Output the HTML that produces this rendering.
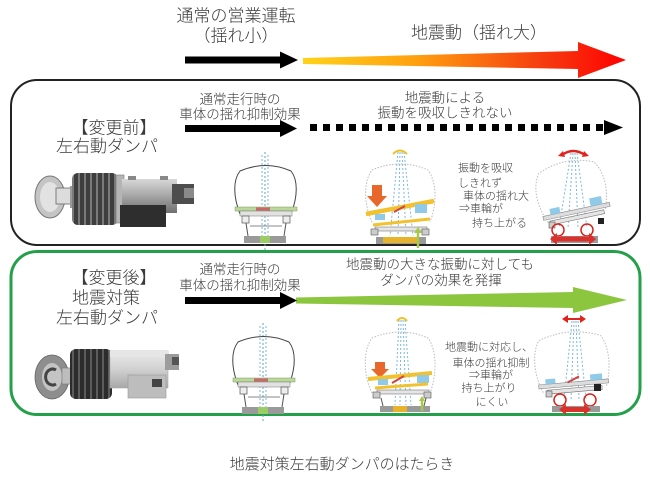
<!DOCTYPE html>
<html><head><meta charset="utf-8">
<style>
html,body{margin:0;padding:0;background:#fff;width:650px;height:478px;overflow:hidden}
svg{display:block}
text{font-family:"Liberation Sans","Noto Sans CJK JP",sans-serif;fill:#3a3a3a;font-weight:300}
</style></head>
<body>
<svg width="650" height="478" viewBox="0 0 650 478" xmlns="http://www.w3.org/2000/svg">
<defs>
<linearGradient id="fire" x1="303" y1="0" x2="626" y2="0" gradientUnits="userSpaceOnUse">
<stop offset="0" stop-color="#ffd21a"/>
<stop offset="0.35" stop-color="#ffa010"/>
<stop offset="0.75" stop-color="#f53a10"/>
<stop offset="1" stop-color="#ff0000"/>
</linearGradient>
<linearGradient id="cyl1" x1="0" y1="0" x2="0" y2="1">
<stop offset="0" stop-color="#d8d8d8"/><stop offset="0.5" stop-color="#a5a5a5"/><stop offset="1" stop-color="#6f6f6f"/>
</linearGradient>
<linearGradient id="cyl2" x1="0" y1="0" x2="0" y2="1">
<stop offset="0" stop-color="#ececec"/><stop offset="0.5" stop-color="#d0d0d0"/><stop offset="1" stop-color="#a8a8a8"/>
</linearGradient>
<pattern id="ribs" width="6" height="10" patternUnits="userSpaceOnUse">
<rect width="6" height="10" fill="#3e3e3e"/><rect x="0" width="2" height="10" fill="#7a7a7a"/>
</pattern>
<pattern id="ribs2" width="6" height="10" patternUnits="userSpaceOnUse">
<rect width="6" height="10" fill="#2c2c2c"/><rect x="0" width="2" height="10" fill="#5c5c5c"/>
</pattern>
</defs>

<!-- top header -->
<text x="236" y="21.5" font-size="17" text-anchor="middle">通常の営業運転</text>
<text x="236" y="41.5" font-size="17" text-anchor="middle">（揺れ小）</text>
<text x="479" y="38.5" font-size="17" text-anchor="middle">地震動（揺れ大）</text>
<polygon points="185,56.5 280,56.5 280,51.5 298,60 280,68.5 280,63.5 185,63.5" fill="#000"/>
<polygon points="303,58 578,51 578,42 626,60 578,78 578,69 303,64" fill="url(#fire)"/>

<!-- box 1 -->
<rect x="11" y="80" width="629" height="165" rx="26" ry="26" fill="none" stroke="#222" stroke-width="2"/>
<text x="114" y="133.5" font-size="17" text-anchor="middle">【変更前】</text>
<text x="107" y="152" font-size="17" text-anchor="middle">左右動ダンパ</text>

<!-- damper 1 -->
<g>
<ellipse cx="50" cy="197" rx="15" ry="21" fill="#c4c4c4" stroke="#777" stroke-width="1"/>
<ellipse cx="50" cy="197" rx="10" ry="15" fill="#e2e2e2"/>
<rect x="56" y="188" width="16" height="16" fill="#dcdcdc" stroke="#666" stroke-width="0.8"/>
<rect x="70" y="186" width="6" height="22" fill="#999"/>
<rect x="72" y="173" width="46" height="52" rx="6" fill="url(#ribs)"/>
<rect x="116" y="175" width="8" height="48" fill="#b5b5b5" stroke="#777" stroke-width="0.6"/>
<rect x="122" y="179" width="55" height="34" fill="url(#cyl1)"/>
<rect x="128" y="176" width="8" height="4" fill="#888"/>
<rect x="160" y="176" width="8" height="4" fill="#888"/>
<rect x="120" y="205" width="46" height="22" fill="#2e2e2e"/>
<rect x="172" y="184" width="22" height="20" fill="#4d4d4d"/>
<rect x="184" y="188" width="10" height="10" fill="#8a8a8a"/>
</g>

<text x="240" y="104" font-size="13.5" text-anchor="middle">通常走行時の</text>
<text x="240" y="119" font-size="13.5" text-anchor="middle">車体の揺れ抑制効果</text>
<polygon points="185,125 280,125 280,120 297,128.5 280,137 280,132 185,132" fill="#000"/>

<text x="445" y="102.5" font-size="13.5" text-anchor="middle">地震動による</text>
<text x="445" y="117.5" font-size="13.5" text-anchor="middle">振動を吸収しきれない</text>
<line x1="310" y1="127.5" x2="604" y2="127.5" stroke="#000" stroke-width="7" stroke-dasharray="7,6"/>
<polygon points="604,120 623,127.5 604,135" fill="#000"/>

<g font-size="11">
<text x="458" y="171.5">振動を吸収</text>
<text x="458" y="186.5">しきれず</text>
<text x="463" y="199.5">車体の揺れ大</text>
<text x="459" y="212">⇒車輪が</text>
<text x="472" y="226.5">持ち上がる</text>
</g>

<!-- Train A normal -->
<g id="trainA">
<line x1="262" y1="155" x2="262" y2="236" stroke="#7ab8dd" stroke-width="1" stroke-dasharray="2,2"/>
<line x1="268" y1="155" x2="268" y2="236" stroke="#7ab8dd" stroke-width="1" stroke-dasharray="2,2"/>
<line x1="265" y1="152" x2="265" y2="250" stroke="#5aa0cc" stroke-width="1" stroke-dasharray="2,2"/>
<path d="M240 214 C233 196 233 180 240 171 Q266 160 291 171 C298 180 298 196 291 214" fill="none" stroke="#444" stroke-width="1"/>
<rect x="235" y="207" width="62" height="4" fill="#bcd79c" stroke="#7a9a5a" stroke-width="0.5"/>
<rect x="240" y="211" width="52" height="5" fill="#e2e2e2" stroke="#777" stroke-width="0.5"/>
<rect x="256" y="207.5" width="14" height="3" fill="#c86a6a"/>
<rect x="242" y="216" width="7" height="7" fill="#eee" stroke="#555" stroke-width="0.7"/>
<rect x="283" y="216" width="7" height="7" fill="#eee" stroke="#555" stroke-width="0.7"/>
<line x1="246" y1="223" x2="248" y2="236" stroke="#555" stroke-width="1"/>
<line x1="286" y1="223" x2="284" y2="236" stroke="#555" stroke-width="1"/>
<line x1="250" y1="226" x2="282" y2="226" stroke="#888" stroke-width="1"/>
<rect x="244" y="236" width="42" height="7" fill="#9a9a9a"/>
<rect x="260" y="236" width="10" height="7" fill="#9ccc66"/>
</g>

<!-- Train B yellow -->
<g>
<g stroke="#7ab8dd" stroke-width="1" stroke-dasharray="2,2">
<line x1="398" y1="152" x2="390" y2="236"/><line x1="400" y1="152" x2="398" y2="236"/>
<line x1="402" y1="152" x2="406" y2="236"/><line x1="404" y1="152" x2="413" y2="236"/>
</g>
<path d="M372 222 C364 205 363 182 372 170 Q400 158 428 170 C437 182 437 205 430 222" fill="none" stroke="#bbb" stroke-width="1" stroke-dasharray="1.5,1.5"/>
<path d="M393 154 Q400 147 407 154" fill="none" stroke="#f0c020" stroke-width="2"/>
<polygon points="372,185 382,185 382,196 387,196 377,207 367,196 372,196" fill="#e8682c"/>
<line x1="366" y1="214" x2="434" y2="201" stroke="#f2c12e" stroke-width="4.5"/>
<rect x="375" y="214" width="10" height="6" fill="#8fcbe9"/>
<rect x="415" y="204" width="12" height="9" fill="#8fcbe9"/>
<line x1="394" y1="212" x2="405" y2="206" stroke="#c44" stroke-width="2"/>
<line x1="373" y1="225" x2="430" y2="219" stroke="#f2c12e" stroke-width="3"/>
<rect x="375" y="227" width="52" height="4" fill="#e5e5e5" stroke="#777" stroke-width="0.6"/>
<rect x="371" y="229" width="7" height="6" fill="#ccc" stroke="#555" stroke-width="0.6"/>
<rect x="422" y="229" width="7" height="6" fill="#ccc" stroke="#555" stroke-width="0.6"/>
<rect x="376" y="237" width="50" height="7" fill="#9a9a9a"/>
<rect x="383" y="237" width="34" height="6" fill="#e7b32d"/>
<line x1="418" y1="248" x2="418" y2="232" stroke="#a6c94a" stroke-width="2.5"/>
<polygon points="414,233 418,227 422,233" fill="#a6c94a"/>
</g>

<!-- Train C red -->
<g>
<g stroke="#7ab8dd" stroke-width="1" stroke-dasharray="2,2">
<line x1="571" y1="153" x2="559" y2="228"/><line x1="573" y1="153" x2="568" y2="228"/>
<line x1="575" y1="153" x2="578" y2="228"/><line x1="577" y1="153" x2="587" y2="228"/>
</g>
<path d="M562 155 Q573 147 585 155" fill="none" stroke="#e0231d" stroke-width="2.5"/>
<polygon points="558,156 563,151 565,157" fill="#e0231d"/>
<polygon points="589,156 584,151 582,157" fill="#e0231d"/>
<g transform="rotate(-12 572 195)">
<path d="M543 217 C535 199 535 179 544 167 Q572 155 600 167 C609 179 609 199 601 217" fill="none" stroke="#bbb" stroke-width="1" stroke-dasharray="1.5,1.5"/>
<rect x="539" y="210" width="68" height="4" fill="#ddd" stroke="#888" stroke-width="0.6"/>
<rect x="547" y="204" width="10" height="6" fill="#8fcbe9"/>
<rect x="588" y="202" width="12" height="8" fill="#8fcbe9"/>
<rect x="545" y="216" width="55" height="4" fill="#e5e5e5" stroke="#777" stroke-width="0.6"/>
</g>
<rect x="598" y="218" width="6" height="6" fill="#222"/>
<rect x="549" y="222" width="6" height="6" fill="#ccc" stroke="#555" stroke-width="0.6"/>
<circle cx="558" cy="230" r="6" fill="none" stroke="#d8231c" stroke-width="1.5"/>
<circle cx="587" cy="230" r="6" fill="none" stroke="#d8231c" stroke-width="1.5"/>
<rect x="551" y="236" width="47" height="7" fill="#9a9a9a"/>
<rect x="556" y="236.5" width="34" height="5" fill="#d9312b"/>
<polygon points="557,233 550,239 557,245" fill="#d9312b"/>
<polygon points="589,233 596,239 589,245" fill="#d9312b"/>
</g>

<!-- box 2 -->
<rect x="11" y="251.5" width="629" height="163" rx="26" ry="26" fill="none" stroke="#23a049" stroke-width="3"/>
<text x="114" y="283.5" font-size="17" text-anchor="middle">【変更後】</text>
<text x="106" y="303.5" font-size="17" text-anchor="middle">地震対策</text>
<text x="107" y="323.5" font-size="17" text-anchor="middle">左右動ダンパ</text>

<!-- damper 2 -->
<g>
<ellipse cx="52" cy="377" rx="17" ry="22" fill="#8e8e8e" stroke="#666" stroke-width="0.8"/>
<ellipse cx="52" cy="377" rx="10" ry="14" fill="#c4c4c4"/>
<path d="M56 370 A7 8 0 1 0 56 384" fill="none" stroke="#444" stroke-width="3"/>
<rect x="62" y="368" width="10" height="16" fill="#bdbdbd" stroke="#777" stroke-width="0.6"/>
<rect x="70" y="349" width="42" height="50" rx="6" fill="url(#ribs2)"/>
<rect x="110" y="351" width="58" height="37" fill="url(#cyl2)" stroke="#aaa" stroke-width="0.6"/>
<rect x="110" y="351" width="58" height="6" fill="#e6e6e6"/>
<rect x="165" y="354" width="14" height="16" fill="#9c9c9c"/>
<rect x="172" y="357" width="7" height="8" fill="#555"/>
<rect x="128" y="375" width="38" height="23" fill="#bdbdbd" stroke="#999" stroke-width="0.6"/>
<rect x="152" y="379" width="10" height="8" fill="#444"/>
</g>

<text x="240" y="274" font-size="13.5" text-anchor="middle">通常走行時の</text>
<text x="240" y="290" font-size="13.5" text-anchor="middle">車体の揺れ抑制効果</text>
<polygon points="296,297.5 573,292 573,287 627,300 573,313 573,308 296,303.5" fill="#8cc63f"/>
<polygon points="185,297 280,297 280,292 297,300.5 280,309 280,304 185,304" fill="#000"/>

<text x="440" y="269" font-size="13.5" text-anchor="middle">地震動の大きな振動に対しても</text>
<text x="441" y="285" font-size="13.5" text-anchor="middle">ダンパの効果を発揮</text>

<g font-size="11" text-anchor="middle">
<text x="489" y="350.5">地震動に対応し、</text>
<text x="491" y="366.5">車体の揺れ抑制</text>
<text x="491" y="378.5">⇒車輪が</text>
<text x="489" y="391.5">持ち上がり</text>
<text x="492" y="405.5">にくい</text>
</g>

<!-- Train D normal -->
<use href="#trainA" transform="translate(-2,171)"/>

<!-- Train E yellow -->
<g>
<g stroke="#7ab8dd" stroke-width="1" stroke-dasharray="2,2">
<line x1="399" y1="320" x2="395" y2="405"/><line x1="401" y1="320" x2="400" y2="405"/>
<line x1="403" y1="320" x2="406" y2="405"/><line x1="405" y1="320" x2="411" y2="405"/>
</g>
<path d="M372 393 C363 375 363 350 372 338 Q400 326 428 338 C437 350 437 375 430 393" fill="none" stroke="#bbb" stroke-width="1" stroke-dasharray="1.5,1.5"/>
<path d="M397 321 Q402 315 407 321" fill="none" stroke="#f0c020" stroke-width="2"/>
<polygon points="375,362 385,362 385,369 389,369 380,378 371,369 375,369" fill="#e8682c"/>
<line x1="368" y1="379" x2="432" y2="373" stroke="#f2c12e" stroke-width="4"/>
<rect x="378" y="379" width="10" height="6" fill="#8fcbe9"/>
<rect x="417" y="375" width="12" height="8" fill="#8fcbe9"/>
<line x1="392" y1="383" x2="404" y2="376" stroke="#c44" stroke-width="2"/>
<line x1="375" y1="388" x2="428" y2="384" stroke="#f2c12e" stroke-width="3"/>
<rect x="377" y="390" width="52" height="4" fill="#e5e5e5" stroke="#777" stroke-width="0.6"/>
<rect x="373" y="392" width="7" height="6" fill="#ccc" stroke="#555" stroke-width="0.6"/>
<rect x="424" y="392" width="7" height="6" fill="#ccc" stroke="#555" stroke-width="0.6"/>
<line x1="381" y1="398" x2="383" y2="406" stroke="#555" stroke-width="1"/>
<line x1="426" y1="398" x2="424" y2="406" stroke="#555" stroke-width="1"/>
<rect x="380" y="406" width="50" height="6" fill="#9a9a9a"/>
<rect x="393" y="406" width="14" height="6" fill="#e7b32d"/>
<line x1="422" y1="411" x2="422" y2="400" stroke="#a6c94a" stroke-width="2.5"/>
<polygon points="419,401 422,396 425,401" fill="#a6c94a"/>
</g>

<!-- Train F red -->
<g>
<g stroke="#7ab8dd" stroke-width="1" stroke-dasharray="2,2">
<line x1="572" y1="321" x2="564" y2="400"/><line x1="574" y1="321" x2="571" y2="400"/>
<line x1="576" y1="321" x2="579" y2="400"/><line x1="578" y1="321" x2="586" y2="400"/>
</g>
<line x1="567" y1="319" x2="581" y2="319" stroke="#e0231d" stroke-width="2"/>
<polygon points="568,315 562,319 568,323" fill="#e0231d"/>
<polygon points="580,315 586,319 580,323" fill="#e0231d"/>
<g transform="rotate(-5 572 365)">
<path d="M541 390 C533 372 533 350 541 338 Q572 326 603 338 C611 350 611 372 604 390" fill="none" stroke="#bbb" stroke-width="1" stroke-dasharray="1.5,1.5"/>
<rect x="537" y="382" width="70" height="4" fill="#ddd" stroke="#888" stroke-width="0.6"/>
<rect x="544" y="377" width="10" height="5" fill="#8fcbe9"/>
<rect x="589" y="376" width="12" height="6" fill="#8fcbe9"/>
<line x1="566" y1="382" x2="578" y2="377" stroke="#c44" stroke-width="2"/>
<rect x="545" y="388" width="55" height="4" fill="#e5e5e5" stroke="#777" stroke-width="0.6"/>
</g>
<rect x="594" y="384" width="7" height="7" fill="#222"/>
<rect x="546" y="391" width="6" height="6" fill="#ccc" stroke="#555" stroke-width="0.6"/>
<circle cx="560" cy="400" r="6" fill="none" stroke="#d8231c" stroke-width="1.5"/>
<circle cx="590" cy="400" r="6" fill="none" stroke="#d8231c" stroke-width="1.5"/>
<rect x="552" y="406" width="48" height="6" fill="#9a9a9a"/>
<rect x="564" y="407" width="22" height="5" fill="#d9312b"/>
<polygon points="566,404 559,409.5 566,415" fill="#d9312b"/>
<polygon points="584,404 591,409.5 584,415" fill="#d9312b"/>
</g>

<!-- caption -->
<text x="342" y="469" font-size="15" text-anchor="middle">地震対策左右動ダンパのはたらき</text>
</svg>
</body></html>
